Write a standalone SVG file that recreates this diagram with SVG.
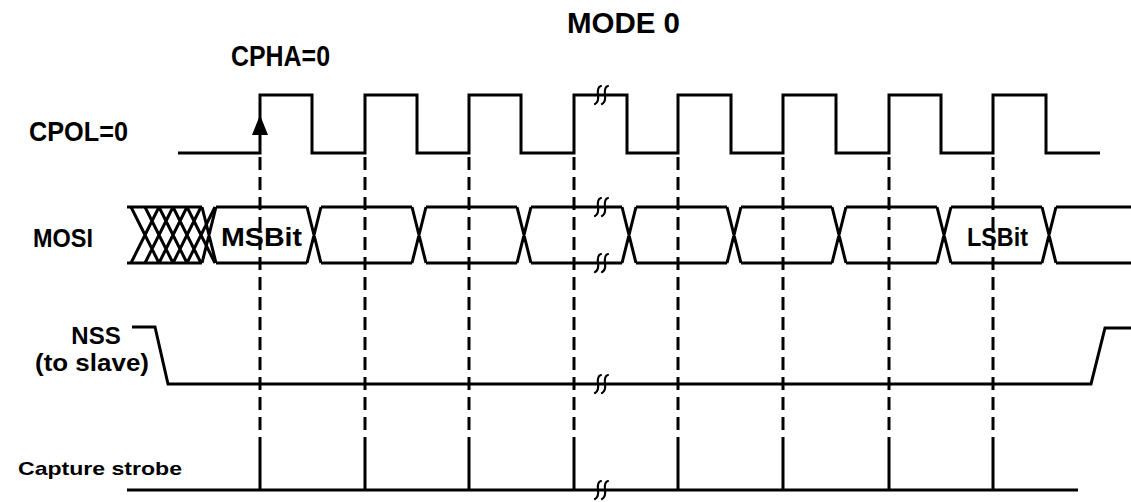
<svg xmlns="http://www.w3.org/2000/svg" width="1131" height="502" viewBox="0 0 1131 502">
<style>
.sig{fill:none;stroke:#000;stroke-width:3;stroke-linejoin:miter}
.dash{fill:none;stroke:#000;stroke-width:3;stroke-dasharray:13 7}
.brk{fill:none;stroke:#000;stroke-width:2.2;stroke-linecap:round}
.lbl{font-family:"Liberation Sans",Arial,sans-serif;font-weight:bold;fill:#000}
</style>
<defs>
<g id="brk">
<path class="brk" d="M-1,-9 Q-5,-8 -4,0 Q-3,7 -7,9"/>
<path class="brk" d="M6,-9 Q2,-8 3,0 Q4,7 0,9"/>
</g>
</defs>

<g id="titles">
<text class="lbl" x="567" y="33" font-size="29" textLength="113" lengthAdjust="spacingAndGlyphs">MODE 0</text>
<text class="lbl" x="231" y="66" font-size="29" textLength="99" lengthAdjust="spacingAndGlyphs">CPHA=0</text>
</g>

<g id="labels">
<text class="lbl" x="29" y="141" font-size="28" textLength="99" lengthAdjust="spacingAndGlyphs">CPOL=0</text>
<text class="lbl" x="33" y="247" font-size="25" textLength="60" lengthAdjust="spacingAndGlyphs">MOSI</text>
<text class="lbl" x="96" y="344" font-size="24" text-anchor="middle">NSS</text>
<text class="lbl" x="92" y="371" font-size="23" text-anchor="middle" textLength="114" lengthAdjust="spacingAndGlyphs">(to slave)</text>
<text class="lbl" x="18" y="475" font-size="19" textLength="164" lengthAdjust="spacingAndGlyphs">Capture strobe</text>
</g>

<g id="clock">
<path class="sig" d="M178,153 H260 V95 H312 V153 H365 V95 H417 V153 H469 V95 H521 V153 H574 V95 H627 V153 H678 V95 H731 V153 H783 V95 H836 V153 H889 V95 H941 V153 H993 V95 H1046 V153 H1100"/>
<polygon points="260,115 252,135 268,135" fill="#000"/>
<use href="#brk" x="602" y="95"/>
</g>

<g id="mosi">
<path class="sig" d="M127,207 H202 M127,263 H202"/>
<path class="sig" d="M131,207 L159,263 M131,263 L159,207 M145,207 L173,263 M145,263 L173,207 M159,207 L187,263 M159,263 L187,207 M173,207 L201,263 M173,263 L201,207 M187,207 L215,263 M187,263 L215,207"/>
<path class="sig" d="M202,207 L216,263 M202,263 L216,207
M216,207 H307 M216,263 H307 M307,207 L321,263 M307,263 L321,207
M321,207 H412 M321,263 H412 M412,207 L426,263 M412,263 L426,207
M426,207 H517 M426,263 H517 M517,207 L531,263 M517,263 L531,207
M531,207 H622 M531,263 H622 M622,207 L636,263 M622,263 L636,207
M636,207 H727 M636,263 H727 M727,207 L741,263 M727,263 L741,207
M741,207 H832 M741,263 H832 M832,207 L846,263 M832,263 L846,207
M846,207 H937 M846,263 H937 M937,207 L951,263 M937,263 L951,207
M951,207 H1042 M951,263 H1042 M1042,207 L1056,263 M1042,263 L1056,207
M1056,207 H1131 M1056,263 H1131"/>
<use href="#brk" x="602" y="207"/>
<use href="#brk" x="602" y="263"/>
<text class="lbl" x="221" y="246" font-size="25" textLength="81" lengthAdjust="spacingAndGlyphs">MSBit</text>
<text class="lbl" x="967" y="246" font-size="25" textLength="61" lengthAdjust="spacingAndGlyphs">LSBit</text>
</g>

<g id="nss">
<path class="sig" d="M132,327 H155 L168,384 H1091 L1105,328 H1131"/>
<use href="#brk" x="602" y="384"/>
</g>

<g id="capture">
<path class="sig" d="M127,490 H1078"/>
<path class="sig" d="M260,437 V490 M365,437 V490 M469,437 V490 M574,437 V490 M678,437 V490 M783,437 V490 M889,437 V490 M993,437 V490"/>
<use href="#brk" x="602" y="490"/>
</g>

<g id="connectors">
<path class="dash" d="M260,157 V437 M365,157 V437 M469,157 V437 M574,157 V437 M678,157 V437 M783,157 V437 M889,157 V437 M993,157 V437"/>
</g>
</svg>
